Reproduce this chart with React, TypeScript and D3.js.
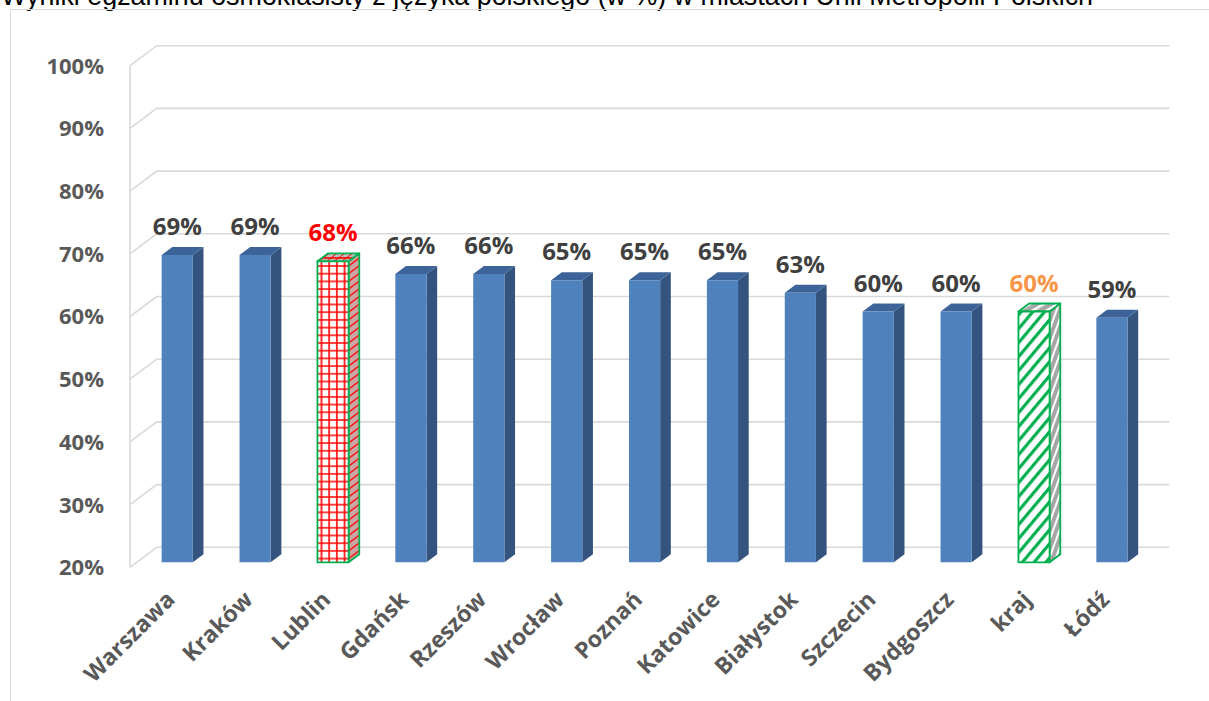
import React from "react";
import * as d3 from "d3";

// chart data
const categories = [
  "Warszawa",
  "Kraków",
  "Lublin",
  "Gdańsk",
  "Rzeszów",
  "Wrocław",
  "Poznań",
  "Katowice",
  "Białystok",
  "Szczecin",
  "Bydgoszcz",
  "kraj",
  "Łódź",
];
const values = [69, 69, 68, 66, 66, 65, 65, 65, 63, 60, 60, 60, 59];
const yTicks = [20, 30, 40, 50, 60, 70, 80, 90, 100];
const title =
  "Wyniki egzaminu ósmoklasisty z języka polskiego (w %) w miastach Unii Metropolii Polskich";

// categories that get a special fill
const gridCategory = "Lublin";
const stripeCategory = "kraj";

const W = 1209;
const H = 701;

// oblique depth of the 3D box
const DX = 26.7;
const DY = -20;
const D0 = 0.25; // bar front plane
const D1 = 0.65; // bar back plane

const FONT = "'Open Sans', 'DejaVu Sans', sans-serif";
const GRID = "#D9D9D9";
const GREEN = "#00B050";

export default function App() {
  const y = d3.scaleLinear().domain([20, 100]).range([567.3, 65.7]);
  const x = d3
    .scaleBand<string>()
    .domain(categories)
    .range([131.6, 131.6 + 1012.6])
    .paddingInner(0.6)
    .paddingOuter(0.3);

  const left = 130;
  const right = 130 + 1012.6;
  const bw = x.bandwidth();

  const pt = (px: number, py: number, d: number) =>
    `${px + DX * d},${py + DY * d}`;

  return (
    <svg
      width={W}
      height={H}
      style={{ position: "absolute", left: 0, top: 0, background: "#fff" }}
      fontFamily={FONT}
    >
      <defs>
        {categories.map((c) => {
          const fx = (x(c) || 0) + DX * D0;
          const fy = y(values[categories.indexOf(c)]) + DY * D0;
          if (c === gridCategory) {
            return (
              <React.Fragment key={c}>
                <pattern
                  id="gridFront"
                  patternUnits="userSpaceOnUse"
                  width={7.7}
                  height={7.7}
                  x={fx + 0.2}
                  y={fy + 0.8}
                >
                  <rect width={7.7} height={7.7} fill="#fff" />
                  <path d="M3.85,0V7.7M0,3.85H7.7" stroke="#FF0000" strokeWidth={1.6} />
                </pattern>
                <pattern
                  id="gridSide"
                  patternUnits="userSpaceOnUse"
                  width={7.7}
                  height={7.7}
                  patternTransform="skewY(-36.87)"
                >
                  <rect width={7.7} height={7.7} fill="#C9A5A5" />
                  <path d="M0,3.85H7.7" stroke="#FF0000" strokeWidth={1.6} />
                </pattern>
                <pattern
                  id="gridTop"
                  patternUnits="userSpaceOnUse"
                  width={7.7}
                  height={7.7}
                  x={fx + 0.2}
                  patternTransform="skewX(-53.2)"
                >
                  <rect width={7.7} height={7.7} fill="#BDBDBD" />
                  <path d="M3.85,0V7.7M0,3.85H7.7" stroke="#FF0000" strokeWidth={1.4} />
                </pattern>
              </React.Fragment>
            );
          }
          if (c === stripeCategory) {
            return (
              <React.Fragment key={c}>
                <pattern
                  id="stripeFront"
                  patternUnits="userSpaceOnUse"
                  width={9}
                  height={9}
                  patternTransform="rotate(40)"
                >
                  <rect width={9} height={9} fill="#fff" />
                  <rect width={3.2} height={9} fill={GREEN} />
                </pattern>
                <pattern
                  id="stripeSide"
                  patternUnits="userSpaceOnUse"
                  width={6}
                  height={6}
                  patternTransform="rotate(20)"
                >
                  <rect width={6} height={6} fill="#A6A6A6" />
                  <rect width={2} height={6} fill="#fff" />
                </pattern>
                <pattern
                  id="stripeTop"
                  patternUnits="userSpaceOnUse"
                  width={7}
                  height={7}
                  patternTransform="rotate(60)"
                >
                  <rect width={7} height={7} fill="#A6A6A6" />
                  <rect width={2.5} height={7} fill="#fff" />
                </pattern>
              </React.Fragment>
            );
          }
          return null;
        })}
      </defs>

      {/* title, cut off at the top edge like in the source */}
      <text
        x={1}
        y={4.5}
        fontFamily="'Liberation Sans', Arial, sans-serif"
        fontSize={26.8}
        fill="#000"
        textLength={1092}
        lengthAdjust="spacingAndGlyphs"
      >
        {title}
      </text>

      {/* chart frame */}
      <rect x={10.5} y={9.5} width={W} height={H} fill="none" stroke={GRID} strokeWidth={1} />

      {/* back wall and side wall grid */}
      <g stroke={GRID} strokeWidth={1.6} fill="none">
        {yTicks.map((t) => (
          <path
            key={t}
            d={`M${left},${y(t)}L${left + DX},${y(t) + DY}L${right + DX},${y(t) + DY}`}
          />
        ))}
        <line x1={left} x2={left} y1={y(100)} y2={y(20)} />
      </g>

      {/* y axis labels */}
      <g fontSize={22} fontWeight={700} fill="#595959" textAnchor="end">
        {yTicks.map((t) => (
          <text key={t} x={104} y={y(t)} dy="0.36em">
            {t}%
          </text>
        ))}
      </g>

      {/* bars */}
      {categories.map((c, i) => {
        const x0 = x(c) || 0;
        const x1 = x0 + bw;
        const yt = y(values[i]);
        const yb = y(20);
        const front = [pt(x0, yt, D0), pt(x1, yt, D0), pt(x1, yb, D0), pt(x0, yb, D0)].join(" ");
        const side = [pt(x1, yt, D0), pt(x1, yt, D1), pt(x1, yb, D1), pt(x1, yb, D0)].join(" ");
        const top = [pt(x0, yt, D0), pt(x1, yt, D0), pt(x1, yt, D1), pt(x0, yt, D1)].join(" ");
        if (c === gridCategory || c === stripeCategory) {
          const k = c === gridCategory ? "grid" : "stripe";
          return (
            <g key={c} stroke={GREEN} strokeWidth={1.8} strokeLinejoin="round">
              <polygon points={side} fill={`url(#${k}Side)`} />
              <polygon points={top} fill={`url(#${k}Top)`} />
              <polygon points={front} fill={`url(#${k}Front)`} />
            </g>
          );
        }
        return (
          <g key={c}>
            <polygon points={side} fill="#34547F" />
            <polygon points={top} fill="#3C6498" />
            <polygon points={front} fill="#4F81BD" />
          </g>
        );
      })}

      {/* data labels */}
      <g fontSize={24} fontWeight={700} textAnchor="middle">
        {categories.map((c, i) => (
          <text
            key={c}
            x={(x(c) || 0) + bw / 2 + DX * D0}
            y={y(values[i]) - 25}
            fill={c === gridCategory ? "#FF0000" : c === stripeCategory ? "#F79646" : "#404040"}
          >
            {values[i]}%
          </text>
        ))}
      </g>

      {/* category labels */}
      <g fontSize={23} fontWeight={700} fill="#595959" textAnchor="end">
        {categories.map((c) => (
          <text
            key={c}
            transform={`translate(${(x(c) || 0) + bw / 2 + DX * D0 - 1},${601}) rotate(-45)`}
          >
            {c}
          </text>
        ))}
      </g>
    </svg>
  );
}
